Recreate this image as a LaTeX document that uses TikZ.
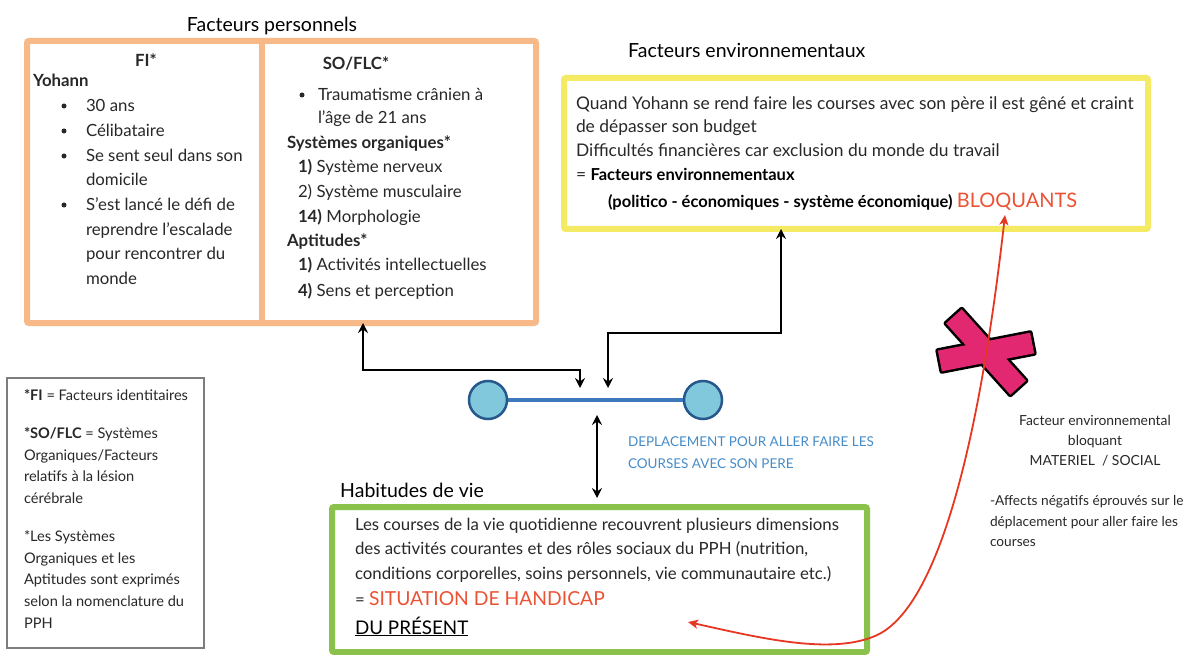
\documentclass[tikz,border=0pt]{standalone}
\usepackage{fontspec}
\setmainfont{Lato}
\usetikzlibrary{arrows.meta}
\definecolor{bodyc}{RGB}{40,40,40}
\definecolor{orbox}{RGB}{247,185,135}
\definecolor{yebox}{RGB}{244,234,100}
\definecolor{grbox}{RGB}{138,194,76}
\definecolor{legbox}{RGB}{125,125,125}
\definecolor{bluel}{RGB}{62,120,188}
\definecolor{bluef}{RGB}{130,200,220}
\definecolor{blueb}{RGB}{38,88,140}
\definecolor{bluet}{RGB}{70,140,200}
\definecolor{redt}{RGB}{236,82,52}
\definecolor{redl}{RGB}{230,55,35}
\definecolor{xpink}{RGB}{226,40,112}
\newcommand\fbody{\fontsize{16.8}{20}\selectfont}
\newcommand\fenv{\fontsize{17.4}{20}\selectfont}
\newcommand\fenvb{\fontsize{16.5}{20}\selectfont\bfseries}
\newcommand\ftitle{\fontsize{19.5}{23}\selectfont}
\newcommand\fleg{\fontsize{14.6}{17}\selectfont}
\newcommand\fside{\fontsize{13.9}{16}\selectfont}
\newcommand\fsideb{\fontsize{13.7}{16}\selectfont}
\newcommand\fblue{\fontsize{13.5}{16}\selectfont}
\tikzset{
  txt/.style={anchor=base west, inner sep=0pt, outer sep=0pt, font=\fbody, text=bodyc},
  ctxt/.style={anchor=base, inner sep=0pt, outer sep=0pt, font=\fbody, text=bodyc},
  ttl/.style={anchor=base west, inner sep=0pt, font=\ftitle, text=black},
  etxt/.style={txt, font=\fenv},
  leg/.style={txt, font=\fleg},
  side/.style={txt, font=\fsideb},
  cside/.style={ctxt, font=\fside},
  bluetxt/.style={txt, font=\fblue, text=bluet},
  bul/.style={circle, fill=bodyc, inner sep=0pt, minimum size=5pt},
  bigbox/.style={draw, line width=6pt, rounded corners=2pt, inner sep=0pt, outer sep=0pt},
  conn/.style={line width=1.4pt, draw=black, arrows={Stealth[length=10pt,width=10pt,inset=3.5pt]-Stealth[length=10pt,width=10pt,inset=3.5pt]}},
  redarr/.style={line width=1.8pt, draw=redl, arrows={Stealth[length=10pt,width=9pt,inset=2.5pt]-Stealth[length=10pt,width=9pt,inset=2.5pt]}},
  dot/.style={circle, draw=blueb, fill=bluef, line width=2.5pt, minimum size=38pt, inner sep=0pt},
}
\begin{document}
\begin{tikzpicture}[x=1pt,y=-1pt]
\useasboundingbox (0,0) rectangle (1189,655);
\fill[white] (0,0) rectangle (1189,655);

% ---------- Facteurs personnels ----------
\node[ctxt, font=\ftitle, text=black] (tp) at (272,32) {Facteurs personnels};
\node[bigbox, draw=orbox, minimum width=509pt, minimum height=282pt] (pbox) at (281.5,182) {};
\draw[draw=orbox, line width=6pt] (pbox.north -| 262,0) coordinate (dv1) -- (pbox.south -| 262,0) coordinate (dv2);

\node[ctxt, font=\fbody\bfseries] (fi) at (146,67) {FI*};
\node[txt, font=\fbody\bfseries] (yo) at (33,87) {Yohann};
\foreach \yy [count=\i] in {106,131,156,205}{
  \node[bul] (pb\i) at (64,\yy) {};
}
\node[txt] (p1) at (86,112) {30 ans};
\node[txt] (p2) at (86,137) {Célibataire};
\node[txt] (p3) at (86,162) {Se sent seul dans son};
\node[txt] (p4) at (86,186) {domicile};
\node[txt] (p5) at (86,211) {S’est lancé le défi de};
\node[txt] (p6) at (86,236) {reprendre l’escalade};
\node[txt] (p7) at (86,260) {pour rencontrer du};
\node[txt] (p8) at (86,284) {monde};

\node[ctxt, font=\fbody\bfseries] (so) at (356,70) {SO/FLC*};
\node[bul] (sb1) at (302,95) {};
\node[txt] (s1) at (318,101) {Traumatisme crânien à};
\node[txt] (s2) at (318,124) {l’âge de 21 ans};
\node[txt, font=\fbody\bfseries] (s3) at (287,149) {Systèmes organiques*};
\node[txt] (s4) at (298,173) {\textbf{1)} Système nerveux};
\node[txt] (s5) at (298,198) {2) Système musculaire};
\node[txt] (s6) at (298,223) {\textbf{14)} Morphologie};
\node[txt, font=\fbody\bfseries] (s7) at (287,247) {Aptitudes*};
\node[txt] (s8) at (298,271) {\textbf{1)} Activités intellectuelles};
\node[txt] (s9) at (298,296) {\textbf{4)} Sens et perception};

% ---------- Facteurs environnementaux ----------
\node[ttl] (te) at (628,58) {Facteurs environnementaux};
\node[bigbox, draw=yebox, minimum width=584pt, minimum height=151pt] (ybox) at (856,153.5) {};
\node[etxt] (e1) at (576,110) {Quand Yohann se rend faire les courses avec son père il est gêné et craint};
\node[etxt] (e2) at (576,133) {de dépasser son budget};
\node[etxt] (e3) at (576,157) {Difficultés financières car exclusion du monde du travail};
\node[etxt] (e4) at (576,181) {= {\fenvb\color{black}Facteurs environnementaux}};
\node[etxt] (e5) at (608,208) {{\fenvb\color{black}(politico - économiques - système économique)} {\fontsize{20}{22}\selectfont\color{redt}BLOQUANTS}};

% ---------- Deplacement ----------
\draw[line width=4.5pt, draw=bluel] (488,400) coordinate (lk1) -- (703,400) coordinate (lk2);
\node[dot] (c1) at (lk1) {};
\node[dot] (c2) at (lk2) {};
\node[bluetxt] (d1) at (628,446) {DEPLACEMENT POUR ALLER FAIRE LES};
\node[bluetxt] (d2) at (628,468) {COURSES AVEC SON PERE};

\coordinate (k1) at (363,370);
\coordinate (ta) at (580,388);
\coordinate (k2) at (781,333);
\coordinate (tb) at (608,388);
\coordinate (tc) at (597,415);
\coordinate (td) at (597,498);
\draw[conn] (pbox.south -| k1) -- (k1) -- (k1 -| ta) -- (ta);
\draw[conn] (ybox.south -| k2) -- (k2) -- (k2 -| tb) -- (tb);
\draw[conn] (tc) -- (td);

% ---------- Habitudes de vie ----------
\node[ttl] (th) at (340,497) {Habitudes de vie};
\node[bigbox, draw=grbox, minimum width=535pt, minimum height=145pt] (hbox) at (599.5,579.5) {};
\node[txt] (h1) at (355,530) {Les courses de la vie quotidienne recouvrent plusieurs dimensions};
\node[txt] (h2) at (355,554) {des activités courantes et des rôles sociaux du PPH (nutrition,};
\node[txt] (h3) at (355,579) {conditions corporelles, soins personnels, vie communautaire etc.)};
\node[txt] (h4) at (355,605) {= {\fontsize{19.3}{22}\selectfont\color{redt}SITUATION DE HANDICAP}};
\node[txt, font=\fontsize{18.8}{22}\selectfont, text=black] (h5) at (355,634) {\underline{DU PRÉSENT}};

% ---------- Legend ----------
\node[draw=legbox, line width=1.3pt, minimum width=197pt, minimum height=270pt, inner sep=0pt] (lbox) at (105.5,513) {};
\node[leg] (l1) at (24,400) {\textbf{*FI} = Facteurs identitaires};
\node[leg] (l2) at (24,438) {\textbf{*SO/FLC} = Systèmes};
\node[leg] (l3) at (24,460) {Organiques/Facteurs};
\node[leg] (l4) at (24,481) {relatifs à la lésion};
\node[leg] (l5) at (24,503) {cérébrale};
\node[leg] (l6) at (24,541) {*Les Systèmes};
\node[leg] (l7) at (24,563) {Organiques et les};
\node[leg] (l8) at (24,584) {Aptitudes sont exprimés};
\node[leg] (l9) at (24,606) {selon la nomenclature du};
\node[leg] (l10) at (24,628) {PPH};

% ---------- Right side ----------
\node[cside] (r1) at (1095,425) {Facteur environnemental};
\node[cside] (r2) at (1095,445) {bloquant};
\node[cside] (r3) at (1095,465) {MATERIEL~~/ SOCIAL};
\node[side] (r4) at (990,505) {-Affects négatifs éprouvés sur le};
\node[side] (r5) at (990,526) {déplacement pour aller faire les};
\node[side] (r6) at (990,546) {courses};

% ---------- Cross ----------
\begin{scope}[shift={(986,352)}]
  \draw[line width=5pt, line join=round, rotate=-48] (-48,-10.5) rectangle (48,10.5);
  \draw[line width=5pt, line join=round, rotate=11] (-47,-10.5) rectangle (47,10.5);
  \fill[xpink, rotate=-48] (-48,-10.5) rectangle (48,10.5);
  \fill[xpink, rotate=11] (-47,-10.5) rectangle (47,10.5);
\end{scope}

% ---------- Red connector ----------
\coordinate (rA) at (688,622);
\coordinate (rB) at (1005,215);
\draw[redarr] (rA) .. controls (760,638) and (830,655) .. (875,636) .. controls (930,613) and (975,480) .. (rB);
\end{tikzpicture}
\end{document}
